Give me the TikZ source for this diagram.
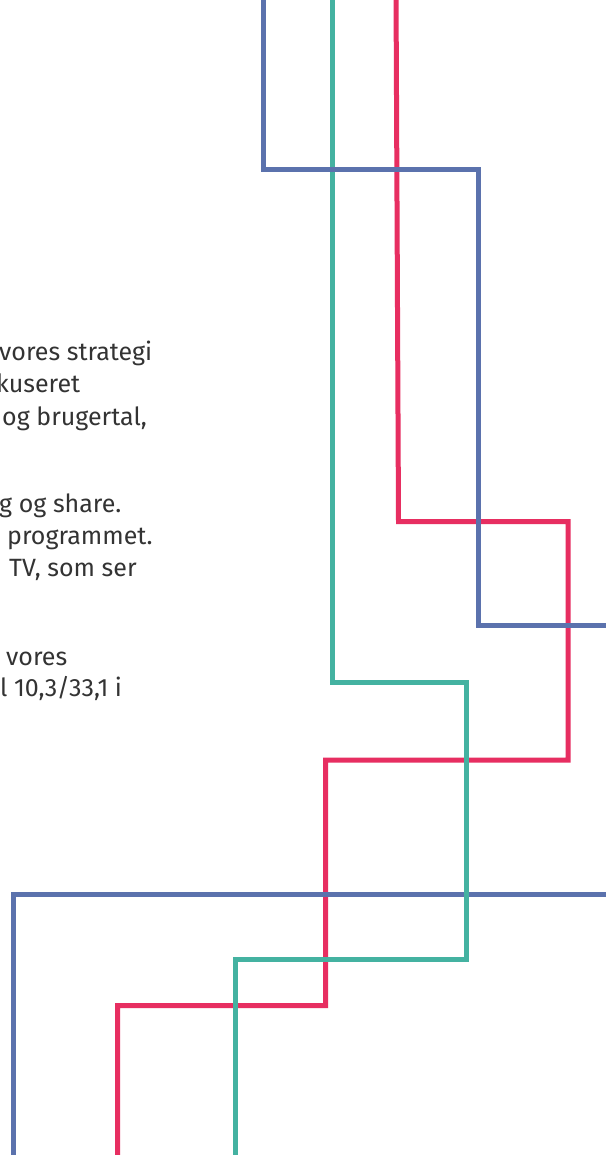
\documentclass[tikz,border=0pt]{standalone}
\usepackage{fontspec}
\setmainfont{Fira Sans}
\usepackage{xcolor}
\definecolor{stripeblue}{HTML}{5B72AD}
\definecolor{stripeteal}{HTML}{44B2A1}
\definecolor{stripered}{HTML}{E72E61}
\definecolor{bodygrey}{HTML}{333333}
\tikzset{
  stripe/.style={line width=5pt, line join=miter},
  bodytext/.style={anchor=base west, inner sep=0pt, text=bodygrey,
    font=\fontsize{25}{30}\selectfont}
}

\begin{document}
\begin{tikzpicture}[x=1pt,y=-1pt]
                        \useasboundingbox (0,0) rectangle (605,1155);
                        \fill[white] (0,0) rectangle (605,1155);

                        \draw[stripe, stripered] (396,-10) -- (398.5,521.5) -- (568,521.5) -- (568,760) -- (325.5,760) -- (325.5,1005.5) -- (117.5,1005.5) -- (117.5,1165);
                        \draw[stripe, stripeblue] (615,894.5) -- (13,894.5) -- (13,1165);
                        \draw[stripe, stripeteal] (332,-10) -- (332,682.5) -- (466,682.5) -- (466,959) -- (235,959) -- (235,1165);
                        \draw[stripe, stripeblue] (263.5,-10) -- (263.5,170) -- (478.5,170) -- (478.5,625) -- (615,625);

                        \node[bodytext] (strategi) at (-1,360) {vores strategi};
                        \node[bodytext] (kuseret) at (-4,392) {kuseret};
                        \node[bodytext] (brugertal) at (2,425) {og brugertal,};
                        \node[bodytext] (share) at (-1,512.5) {g og share.};
                        \node[bodytext] (programmet) at (7,544.5) {programmet.};
                        \node[bodytext] (tv) at (9,576.5) {TV, som ser};
                        \node[bodytext] (vores) at (6,665) {vores};
                        \node[bodytext] (tal) at (0,696.5) {l 10,3/33,1 i};
                    \end{tikzpicture}
\end{document}
